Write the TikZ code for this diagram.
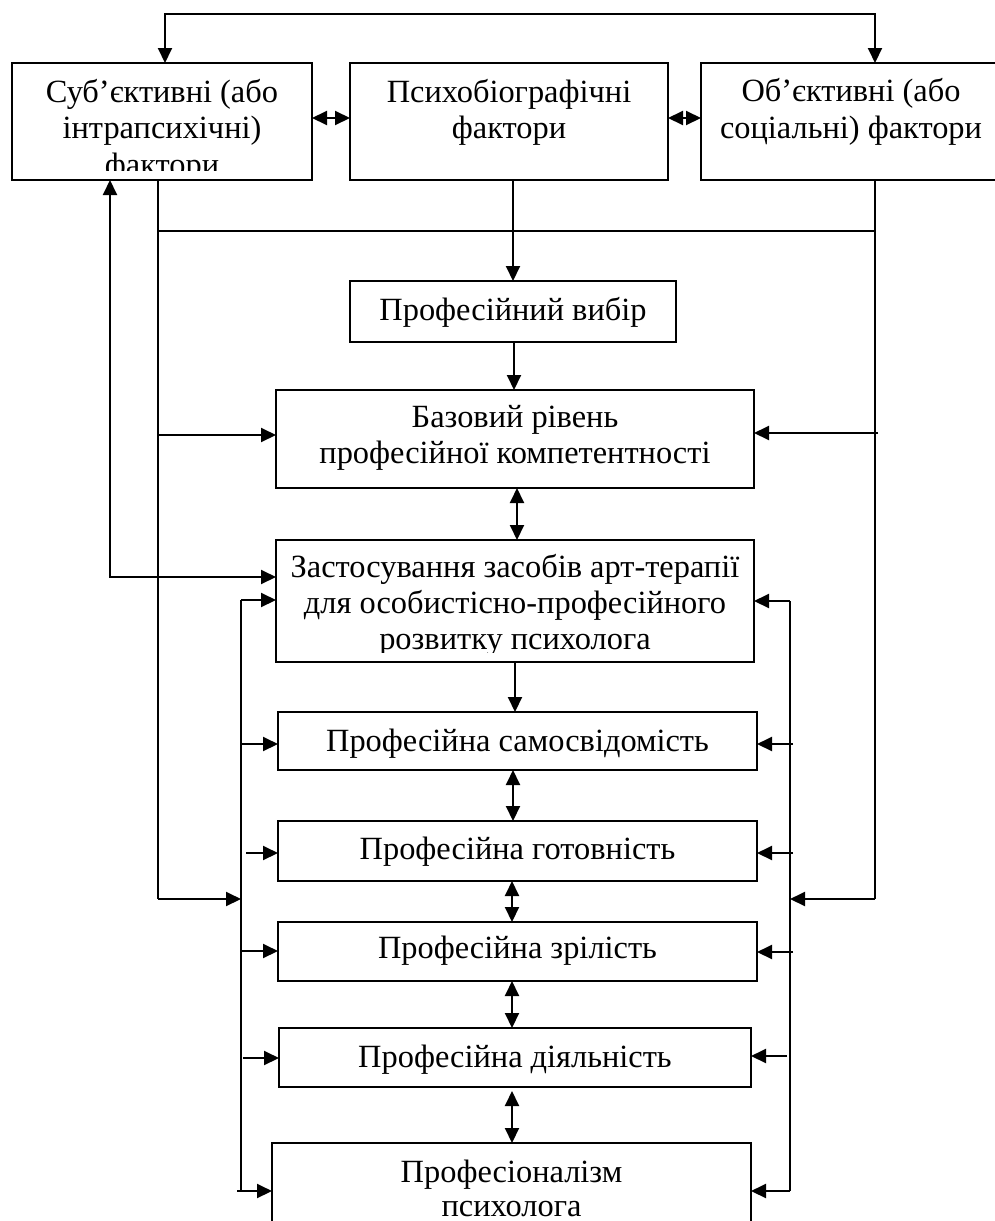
\documentclass[tikz,border=0pt]{standalone}
\usepackage{fontspec}
\setmainfont{Liberation Serif}
\usetikzlibrary{arrows.meta}
\newcommand\tline[4]{\node[txt] (#1) at (#2,#3) {#4};}
\begin{document}
\begin{tikzpicture}[x=1pt,y=-1pt,
  box/.style={draw, line width=1.6pt, inner sep=0pt, outer sep=0pt},
  txt/.style={inner sep=0pt, outer sep=0pt, anchor=base, text depth=0pt, font=\fontsize{32.4}{37}\selectfont},
  ln/.style={line width=1.3pt},
  bus/.style={line width=2pt},
  arr/.style={line width=2pt, -{Triangle[length=15pt,width=14pt]}},
  dbl/.style={line width=2pt, {Triangle[length=15pt,width=14pt]}-{Triangle[length=15pt,width=14pt]}},
]
\useasboundingbox (0,0) rectangle (995,1221);
\clip (0,0) rectangle (995,1221);

% boxes
\node[box, minimum width=300pt, minimum height=117pt] (sub) at (162,121.5) {};
\node[box, minimum width=318pt, minimum height=117pt] (psy) at (509,121.5) {};
\node[box, minimum width=300pt, minimum height=117pt] (obj) at (851,121.5) {};
\node[box, minimum width=326pt, minimum height=61pt] (vyb) at (513,311.5) {};
\node[box, minimum width=478pt, minimum height=98pt] (baz) at (515,439) {};
\node[box, minimum width=478pt, minimum height=122pt] (zas) at (515,601) {};
\node[box, minimum width=479pt, minimum height=58pt] (sam) at (517.5,741) {};
\node[box, minimum width=479pt, minimum height=60pt] (got) at (517.5,851) {};
\node[box, minimum width=479pt, minimum height=59pt] (zri) at (517.5,951.5) {};
\node[box, minimum width=472pt, minimum height=59pt] (diy) at (515,1057.5) {};
\node[box, minimum width=479pt, minimum height=107pt] (pro) at (511.5,1196.5) {};

% texts
\tline{sub1}{162}{102}{Суб’єктивні (або}
\tline{sub2}{162}{138}{інтрапсихічні)}
\begin{scope}
\clip (14,140) rectangle (310,170);
\tline{sub3}{162}{175}{фактори}
\end{scope}
\tline{psy1}{509}{102}{Психобіографічні}
\tline{psy2}{509}{138}{фактори}
\tline{obj1}{851}{101}{Об’єктивні (або}
\tline{obj2}{851}{138}{соціальні) фактори}
\tline{vyb1}{513}{320}{Професійний вибір}
\tline{baz1}{515}{427}{Базовий рівень}
\tline{baz2}{515}{463}{професійної компетентності}
\tline{zas1}{515}{577}{Застосування засобів арт-терапії}
\tline{zas2}{515}{613}{для особистісно-професійного}
\begin{scope}
\clip (278,620) rectangle (752,652);
\tline{zas3}{515}{649}{розвитку психолога}
\end{scope}
\tline{sam1}{517.5}{751}{Професійна самосвідомість}
\tline{got1}{517.5}{859}{Професійна готовність}
\tline{zri1}{517.5}{958}{Професійна зрілість}
\tline{diy1}{515}{1067}{Професійна діяльність}
\tline{pro1}{511.5}{1182}{Професіоналізм}
\tline{pro2}{511.5}{1216}{психолога}

% coordinates
\coordinate (T1) at (165,14);
\coordinate (T2) at (875,14);
\coordinate (A1) at (110,577);
\coordinate (LO) at (158,899);
\coordinate (RO) at (875,899);
\coordinate (H1) at (158,231);
\coordinate (H2) at (875,231);
\coordinate (LB1) at (241,600);
\coordinate (LB2) at (241,1191);
\coordinate (RB1) at (790,601);
\coordinate (RB2) at (790,1191);

% top loop
\draw[dbl] (T1 |- sub.north) -- (T1) -- (T2) -- (T2 |- obj.north);
% horizontal links between top boxes
\draw[dbl] (sub.east |- 0,118) -- (psy.west |- 0,118);
\draw[dbl] (psy.east |- 0,118) -- (obj.west |- 0,118);

% outer lines
\draw[ln] (LO |- sub.south) -- (LO);
\draw[ln] (RO |- obj.south) -- (RO);
\draw[ln] (H1) -- (H2);
\draw[arr] (LO) -- (LB1 |- LO);
\draw[arr] (RO) -- (RB1 |- RO);
\draw[arr] (158,435) -- (baz.west |- 0,435);
\draw[arr] (878,433) -- (baz.east |- 0,433);

% left feedback
\draw[dbl] (A1 |- sub.south) -- (A1) -- (zas.west |- A1);

% central chain
\draw[arr] (psy.south -| 513,0) -- (vyb.north -| 513,0);
\draw[arr] (vyb.south -| 514,0) -- (baz.north -| 514,0);
\draw[dbl] (baz.south -| 517,0) -- (zas.north -| 517,0);
\draw[arr] (zas.south -| 515,0) -- (sam.north -| 515,0);
\draw[dbl] (sam.south -| 513,0) -- (got.north -| 513,0);
\draw[dbl] (got.south -| 512,0) -- (zri.north -| 512,0);
\draw[dbl] (zri.south -| 512,0) -- (diy.north -| 512,0);
\draw[dbl] (512,1091) -- (pro.north -| 512,0);

% left bus
\draw[bus] (LB1) -- (LB2);
\draw[arr] (LB1) -- (zas.west |- LB1);
\draw[arr] (241,744) -- (sam.west |- 0,744);
\draw[arr] (246,853) -- (got.west |- 0,853);
\draw[arr] (242,951) -- (zri.west |- 0,951);
\draw[arr] (243,1058) -- (diy.west |- 0,1058);
\draw[arr] (237,1191) -- (pro.west |- LB2);

% right bus
\draw[bus] (RB1) -- (RB2);
\draw[arr] (RB1) -- (zas.east |- RB1);
\draw[arr] (793,744) -- (sam.east |- 0,744);
\draw[arr] (793,853) -- (got.east |- 0,853);
\draw[arr] (793,952) -- (zri.east |- 0,952);
\draw[arr] (787,1056) -- (diy.east |- 0,1056);
\draw[arr] (RB2) -- (pro.east |- RB2);
\end{tikzpicture}
\end{document}
